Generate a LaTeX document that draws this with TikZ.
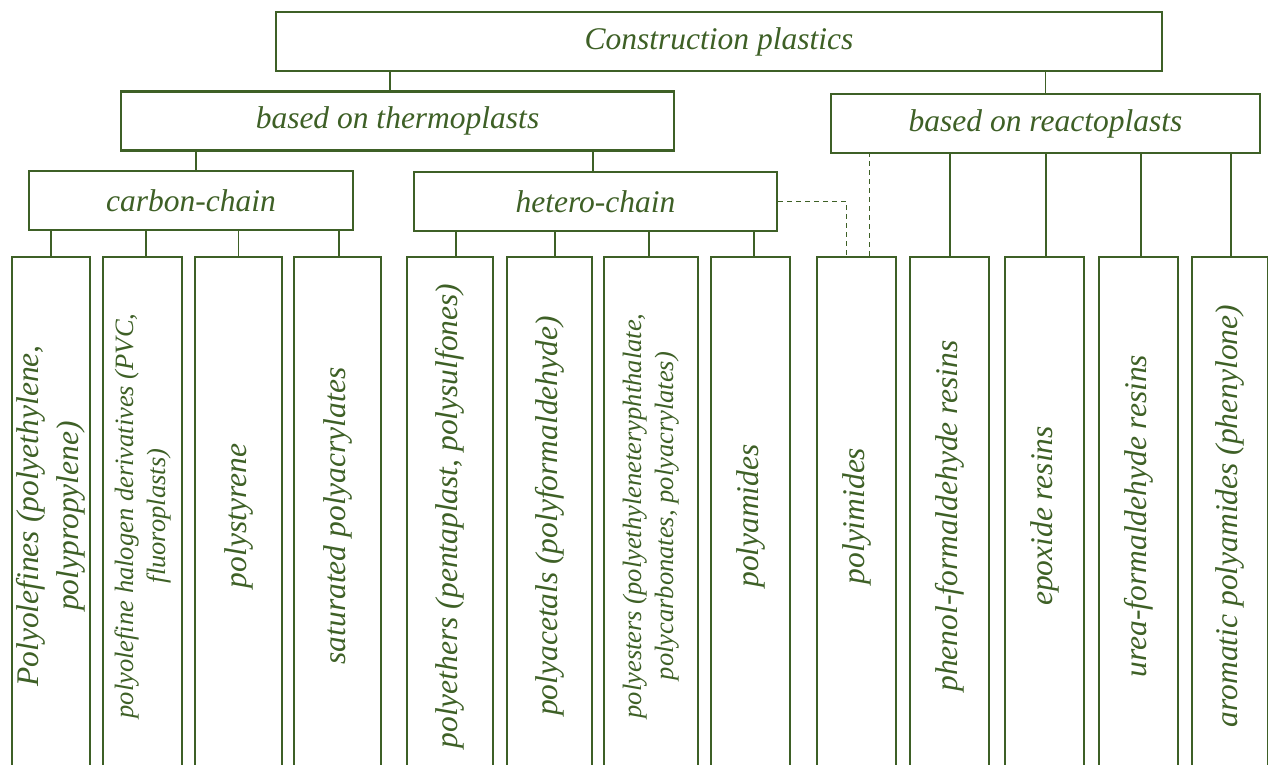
\documentclass[tikz,border=0pt]{standalone}
\usepackage{fontspec}
\setmainfont{Liberation Serif}
\usetikzlibrary{positioning,calc}
\definecolor{plgreen}{RGB}{62,96,38}
\tikzset{
  catbox/.style={draw=plgreen, line width=2.4pt, fill=white, text=plgreen, inner sep=0pt,
                 minimum height=59pt, font=\itshape\fontsize{31.5}{36}\selectfont},
  leafbox/.style={draw=plgreen, line width=2.4pt, fill=white, minimum height=513pt, inner sep=0pt},
  leaftxt/.style={rotate=90, text=plgreen, align=center, inner sep=0pt,
                  font=\itshape\fontsize{31.5}{40}\selectfont},
  smalltxt/.style={leaftxt, font=\itshape\fontsize{26.5}{32}\selectfont},
  link/.style={draw=plgreen, line width=1.3pt},
  dlink/.style={link, dash pattern=on 5pt off 4pt}
}

\begin{document}
\begin{tikzpicture}[x=1pt, y=-1pt]
    \useasboundingbox (0,0) rectangle (1268,764);
    \clip (0,0) rectangle (1268,764);
    % category boxes
    \node[catbox, minimum width=886pt] (top) at (719,41.5) {Construction plastics};
    \node[catbox, minimum width=553pt] (thermo) at (397.5,121) {based on thermoplasts};
    \node[catbox, minimum width=429pt] (react) at (1045.5,123.5) {based on reactoplasts};
    \node[catbox, minimum width=324pt] (carbon) at (191,200.5) {carbon-chain};
    \node[catbox, minimum width=363pt] (hetero) at (595.5,201.5) {hetero-chain};
    % leaf boxes
    \foreach \n/\x/\w/\s/\t in {
        1/51/78/leaftxt/{Polyolefines (polyethylene,\\ polypropylene)},
        2/142.5/79/smalltxt/{polyolefine halogen derivatives (PVC,\\ fluoroplasts)},
        3/238.5/87/leaftxt/{polystyrene},
        4/337.5/87/leaftxt/{saturated polyacrylates},
        5/450/86/leaftxt/{polyethers (pentaplast, polysulfones)},
        6/549.5/85/leaftxt/{polyacetals (polyformaldehyde)},
        7/651/94/smalltxt/{polyesters (polyethyleneteryphthalate,\\ polycarbonates, polyacrylates)},
        8/750.5/79/leaftxt/{polyamides},
        9/856.5/79/leaftxt/{polyimides},
        10/949.5/79/leaftxt/{phenol-formaldehyde resins},
        11/1044.5/79/leaftxt/{epoxide resins},
        12/1138.5/79/leaftxt/{urea-formaldehyde resins},
        13/1230/76/leaftxt/{aromatic polyamides (phenylone)}}{
      \node[leafbox, minimum width=\w pt] (l\n) at (\x,513.5) {};
      \node[\s] (t\n) at ([yshift=-2.5pt]l\n.center) {\t};
    }
    % connectors
    \foreach \c/\p/\d in {thermo/top/-7.5, react/top/0, carbon/thermo/5, hetero/thermo/-2.5,
                          l1/carbon/0, l2/carbon/3.5, l3/carbon/0, l4/carbon/1.5,
                          l5/hetero/6, l6/hetero/5.5, l7/hetero/-2, l8/hetero/3.5,
                          l10/react/0.5, l11/react/1.5, l12/react/2.5, l13/react/1}
      \draw[link] ([xshift=\d pt]\c.north) -- ([xshift=\d pt]\c.north |- \p.south);
    \draw[dlink] (hetero.east) -| ([xshift=-10pt]l9.north);
    \draw[dlink] ([xshift=13pt]l9.north) -- ([xshift=13pt]l9.north |- react.south);
  \end{tikzpicture}
\end{document}
